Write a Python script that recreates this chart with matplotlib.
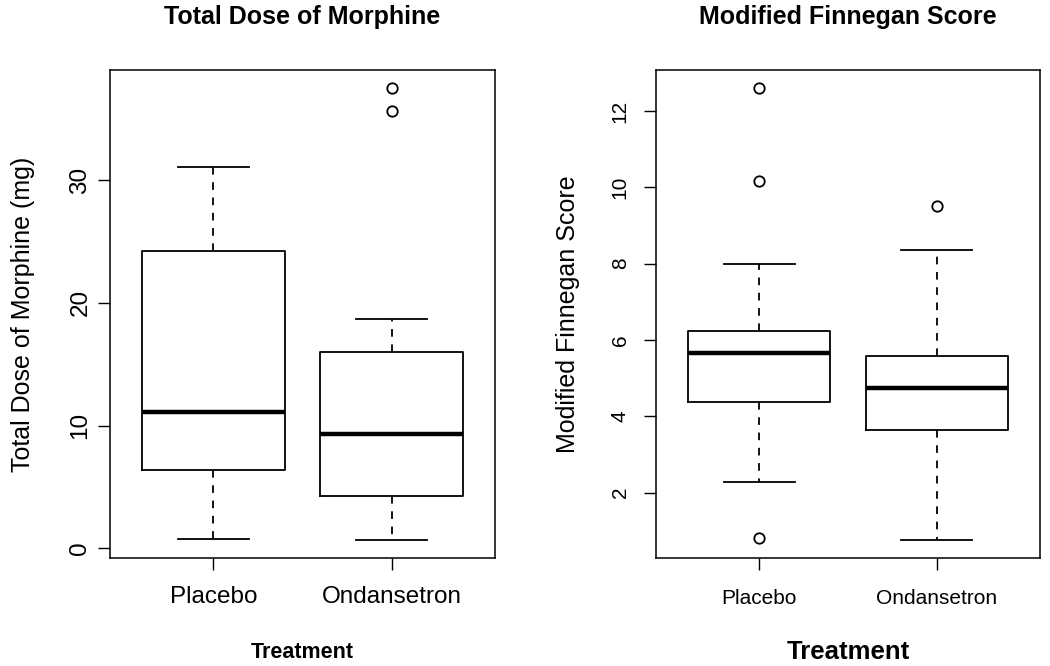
import matplotlib.pyplot as plt

plt.rcParams['font.family'] = ['Liberation Sans', 'DejaVu Sans']
plt.rcParams['lines.scale_dashes'] = False

groups = ["Placebo", "Ondansetron"]

# Total dose of morphine (mg)
morph_lo = [0.75, 0.7]
morph_q1 = [6.4, 4.25]
morph_med = [11.1, 9.3]
morph_q3 = [24.2, 16.0]
morph_hi = [31.1, 18.7]
morph_out = [[], [35.6, 37.5]]

# Modified Finnegan score
finn_lo = [2.27, 0.76]
finn_q1 = [4.38, 3.63]
finn_med = [5.66, 4.73]
finn_q3 = [6.24, 5.58]
finn_hi = [8.0, 8.35]
finn_out = [[0.81, 10.16, 12.6], [9.5]]


def make_stats(lo, q1, med, q3, hi, out):
    stats = []
    for i in range(len(groups)):
        stats.append(dict(label=groups[i], whislo=lo[i], q1=q1[i], med=med[i],
                          q3=q3[i], whishi=hi[i], fliers=out[i]))
    return stats


def draw(ax, stats, title, ylabel, ticks, tick_fs, ypad, xpad, ylabpad, xlab_fs, xlabpad):
    ax.bxp(stats, widths=0.8, showfliers=True,
           boxprops=dict(color="black", linewidth=1.3),
           medianprops=dict(color="black", linewidth=3.2, solid_capstyle="butt"),
           whiskerprops=dict(color="black", linewidth=1.3, linestyle=(0, (5.5, 5.5))),
           capprops=dict(color="black", linewidth=1.3),
           capwidths=0.4,
           flierprops=dict(marker="o", markerfacecolor="none", markeredgecolor="black",
                           markersize=7.5, markeredgewidth=1.3))
    allv = []
    for s in stats:
        allv += [s["whislo"], s["whishi"]] + list(s["fliers"])
    lo, hi = min(allv), max(allv)
    pad = (hi - lo) * 0.04
    ax.set_ylim(lo - pad, hi + pad)
    ax.set_xlim(0.42, 2.58)
    ax.set_yticks(ticks)
    ax.set_yticklabels([str(t) for t in ticks], rotation=90, va="center")
    ax.tick_params(axis="y", labelsize=tick_fs, length=8.5, width=1, pad=ypad)
    ax.tick_params(axis="x", labelsize=tick_fs, length=8.5, width=1, pad=xpad)
    for sp in ax.spines.values():
        sp.set_linewidth(1.1)
    ax.set_title(title, fontsize=18, fontweight="bold", pad=33)
    ax.set_ylabel(ylabel, fontsize=18, labelpad=ylabpad)
    ax.set_xlabel("Treatment", fontsize=xlab_fs, fontweight="bold", labelpad=xlabpad)


fig = plt.figure(figsize=(10.5, 6.66), dpi=100)
ax1 = fig.add_axes([0.1048, 0.1622, 0.3667, 0.7327])
ax2 = fig.add_axes([0.6248, 0.1622, 0.3657, 0.7327])

draw(ax1, make_stats(morph_lo, morph_q1, morph_med, morph_q3, morph_hi, morph_out),
     "Total Dose of Morphine", "Total Dose of Morphine (mg)", [0, 10, 20, 30],
     17.5, 5, 12, 25, 15.5, 24.5)
draw(ax2, make_stats(finn_lo, finn_q1, finn_med, finn_q3, finn_hi, finn_out),
     "Modified Finnegan Score", "Modified Finnegan Score", [2, 4, 6, 8, 10, 12],
     15, 10.5, 14, 22, 18.5, 23)

fig.savefig("out.png", dpi=100)
